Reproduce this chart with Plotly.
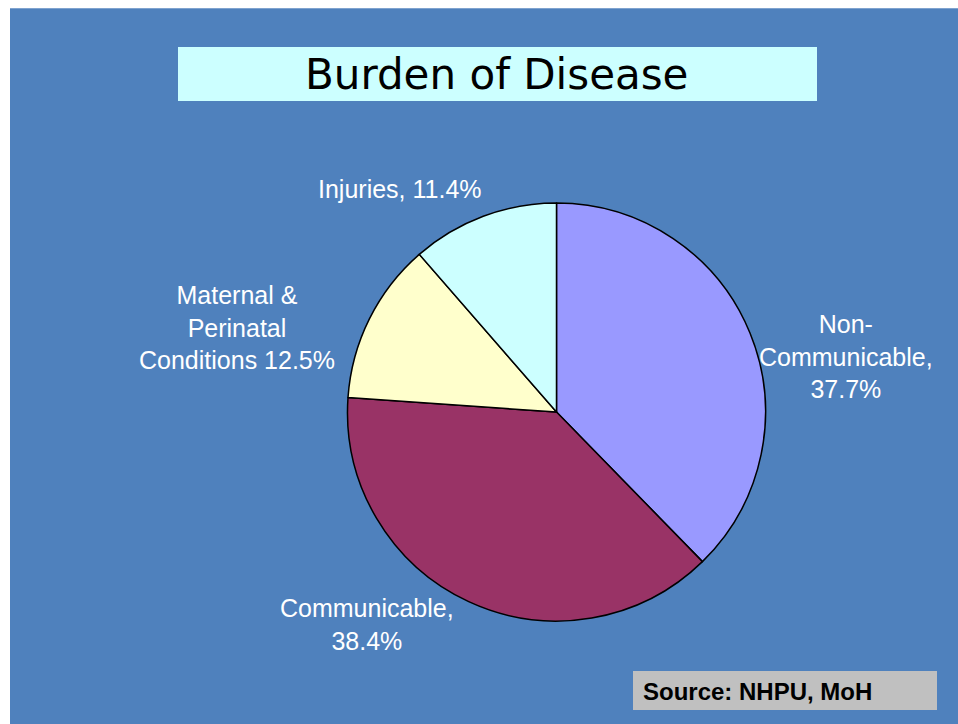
import plotly.graph_objects as go

# ---- data ----
categories = ["Non-Communicable", "Communicable", "Maternal & Perinatal Conditions", "Injuries"]
values = [37.7, 38.4, 12.5, 11.4]
label_templates = [
    "Non-<br>Communicable,<br>{v}%",
    "Communicable,<br>{v}%",
    "Maternal &<br>Perinatal<br>Conditions {v}%",
    "Injuries, {v}%",
]
slice_colors = ["#9999FF", "#993366", "#FFFFCC", "#CCFFFF"]
title_text = "Burden of Disease"
source_text = "Source: NHPU, MoH"

W, H = 958, 724
BG = "#4F81BD"

def px(x):
    return x / W

def py(y):
    return 1 - y / H

fig = go.Figure()
fig.add_trace(go.Pie(
    labels=categories,
    values=values,
    sort=False,
    direction="clockwise",
    rotation=0,
    marker=dict(colors=slice_colors, line=dict(color="black", width=1.5)),
    textinfo="none",
    hoverinfo="label+percent",
    showlegend=False,
    domain=dict(x=[px(347), px(766)], y=[py(621), py(203)]),
))

shapes = [
    dict(type="rect", xref="paper", yref="paper", x0=px(10), x1=1, y0=0, y1=py(8),
         fillcolor=BG, line=dict(width=0), layer="below"),
    dict(type="line", xref="paper", yref="paper", x0=px(10), x1=1, y0=py(8.5), y1=py(8.5),
         line=dict(color="#7FA3CF", width=1), layer="below"),
    dict(type="rect", xref="paper", yref="paper", x0=px(178), x1=px(817), y0=py(101), y1=py(47),
         fillcolor="#CCFFFF", line=dict(width=0), layer="below"),
    dict(type="rect", xref="paper", yref="paper", x0=px(633), x1=px(937), y0=py(710), y1=py(671),
         fillcolor="#C0C0C0", line=dict(width=0), layer="below"),
]

label_pos = [(846, 356), (367, 624), (237, 328), (400, 189)]
label_font = dict(family="Arial, Liberation Sans, sans-serif", size=25, color="white")
annotations = []
for tpl, v, (x, y) in zip(label_templates, values, label_pos):
    annotations.append(dict(
        text=tpl.format(v=v), x=px(x), y=py(y), xref="paper", yref="paper",
        xanchor="center", yanchor="middle", showarrow=False, align="center",
        font=label_font,
    ))

annotations.append(dict(
    text=title_text, x=px(497), y=py(75), xref="paper", yref="paper",
    xanchor="center", yanchor="middle", showarrow=False,
    font=dict(family="Tahoma, DejaVu Sans, sans-serif", size=42, color="black"),
))
annotations.append(dict(
    text="<b>" + source_text + "</b>", x=px(641), y=py(691), xref="paper", yref="paper",
    xanchor="left", yanchor="middle", showarrow=False,
    font=dict(family="Arial, Liberation Sans, sans-serif", size=24, color="black"),
))

fig.update_layout(
    width=W, height=H,
    margin=dict(l=0, r=0, t=0, b=0),
    paper_bgcolor="white",
    plot_bgcolor="white",
    shapes=shapes,
    annotations=annotations,
)

fig.write_html(
    "out.html",
    config={"displayModeBar": False},
    post_script="document.body.style.margin='0';document.body.style.overflow='hidden';",
)
